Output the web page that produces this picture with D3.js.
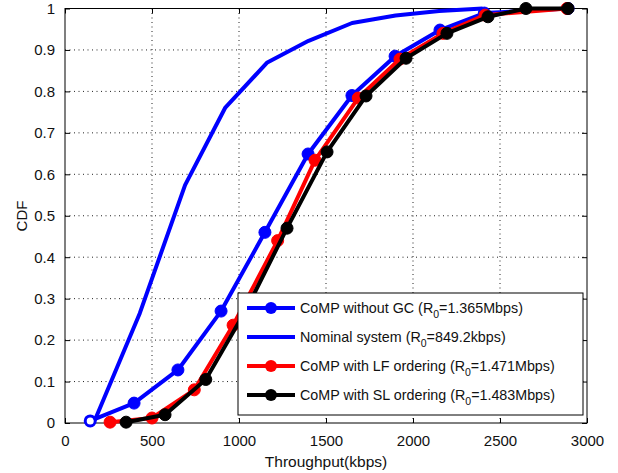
<!DOCTYPE html>
<html>
<head>
<meta charset="utf-8">
<script src="https://cdn.jsdelivr.net/npm/d3@7"></script>
<style>
body { margin: 0; background: #fff; }
text { font-family: "Liberation Sans", Arial, sans-serif; }
</style>
</head>
<body>
<svg width="618" height="473"></svg>
<script>
// data (throughput in kbps, CDF value)
var compX = [145, 397, 649, 897, 1149, 1397, 1649, 1897, 2155, 2410, 2891];
var compY = [0.005, 0.048, 0.128, 0.27, 0.46, 0.649, 0.79, 0.885, 0.948, 0.989, 1.0];
var nomX = [172, 430, 690, 920, 1160, 1400, 1650, 1900, 2150, 2400];
var nomY = [0.007, 0.265, 0.574, 0.76, 0.869, 0.922, 0.965, 0.983, 0.994, 1.0];
var lfX = [259, 500, 743, 966, 1222, 1437, 1685, 1925, 2172, 2414, 2885];
var lfY = [0.002, 0.012, 0.08, 0.236, 0.44, 0.634, 0.784, 0.878, 0.94, 0.984, 1.0];
var slX = [351, 575, 809, 1043, 1276, 1506, 1730, 1960, 2195, 2431, 2649, 2891];
var slY = [0.002, 0.02, 0.105, 0.275, 0.47, 0.654, 0.789, 0.88, 0.94, 0.98, 1.0, 1.0];

var xTicks = [0, 500, 1000, 1500, 2000, 2500, 3000];
var yTicks = [0, 0.1, 0.2, 0.3, 0.4, 0.5, 0.6, 0.7, 0.8, 0.9, 1];

var series = [
  { name: "CoMP without GC (R", val: "=1.365Mbps)", xs: compX, ys: compY, color: "#0000ff", marker: true, openFirst: true },
  { name: "Nominal system (R", val: "=849.2kbps)", xs: nomX, ys: nomY, color: "#0000ff", marker: false },
  { name: "CoMP with LF ordering (R", val: "=1.471Mbps)", xs: lfX, ys: lfY, color: "#ff0000", marker: true },
  { name: "CoMP with SL ordering (R", val: "=1.483Mbps)", xs: slX, ys: slY, color: "#000000", marker: true }
];

var svg = d3.select("svg");
var width = +svg.attr("width");
var height = +svg.attr("height");
var margin = { top: 8.5, right: 31, bottom: 50, left: 65 };
var innerWidth = width - margin.left - margin.right;
var innerHeight = height - margin.top - margin.bottom;

var xScale = d3.scaleLinear().domain([0, 3000]).range([0, innerWidth]);
var yScale = d3.scaleLinear().domain([0, 1]).range([innerHeight, 0]);

var g = svg.append("g").attr("transform", `translate(${margin.left},${margin.top})`);

// dotted grid
g.selectAll(".gx").data(xTicks.slice(1, -1)).enter().append("line")
  .attr("x1", d => xScale(d)).attr("x2", d => xScale(d))
  .attr("y1", 0).attr("y2", innerHeight)
  .attr("stroke", "#222").attr("stroke-width", 1).attr("stroke-dasharray", "1,3.5");
g.selectAll(".gy").data(yTicks.slice(1, -1)).enter().append("line")
  .attr("y1", d => yScale(d)).attr("y2", d => yScale(d))
  .attr("x1", 0).attr("x2", innerWidth)
  .attr("stroke", "#222").attr("stroke-width", 1).attr("stroke-dasharray", "1,3.5");

// axes, ticks pointing inward on all four sides
var xAxis = d3.axisBottom(xScale).tickValues(xTicks).tickSize(-5).tickPadding(12).tickFormat(d3.format("d"));
var yAxis = d3.axisLeft(yScale).tickValues(yTicks).tickSize(-5).tickPadding(10).tickFormat(d => d);
var xAxisG = g.append("g").attr("transform", `translate(0,${innerHeight})`).call(xAxis);
var yAxisG = g.append("g").call(yAxis);
var xTopG = g.append("g").call(d3.axisTop(xScale).tickValues(xTicks).tickSize(-5));
var yRightG = g.append("g").attr("transform", `translate(${innerWidth},0)`)
  .call(d3.axisRight(yScale).tickValues(yTicks).tickSize(-5));
xTopG.selectAll("text").remove();
yRightG.selectAll("text").remove();
[xAxisG, yAxisG, xTopG, yRightG].forEach(function (a) {
  a.select(".domain").remove();
  a.selectAll("line").attr("stroke", "#000");
  a.selectAll("text").attr("fill", "#111").style("font-size", "15px").style("font-family", "Liberation Sans, Arial, sans-serif");
});
g.append("rect").attr("width", innerWidth).attr("height", innerHeight)
  .attr("fill", "none").attr("stroke", "#000").attr("stroke-width", 1);

// curves
var line = d3.line().x(d => xScale(d[0])).y(d => yScale(d[1]));
series.forEach(function (s) {
  var pts = s.xs.map((x, i) => [x, s.ys[i]]);
  g.append("path").datum(pts).attr("d", line)
    .attr("fill", "none").attr("stroke", s.color).attr("stroke-width", 4).attr("stroke-linejoin", "round");
  if (s.marker) {
    g.selectAll(null).data(pts).enter().append("circle")
      .attr("cx", d => xScale(d[0])).attr("cy", d => yScale(d[1]))
      .attr("r", (d, i) => (s.openFirst && i == 0) ? 5 : 6)
      .attr("fill", (d, i) => (s.openFirst && i == 0) ? "#fff" : s.color)
      .attr("stroke", s.color).attr("stroke-width", (d, i) => (s.openFirst && i == 0) ? 3 : 1);
  }
});

// axis labels
svg.append("text").attr("x", 326).attr("y", 467).attr("text-anchor", "middle")
  .style("font-size", "15.5px").attr("fill", "#111").text("Throughput(kbps)");
svg.append("text").attr("transform", "translate(27,216) rotate(-90)").attr("text-anchor", "middle")
  .style("font-size", "15px").attr("fill", "#111").text("CDF");

// legend
var legend = svg.append("g").attr("transform", "translate(238,293)");
legend.append("rect").attr("width", 345).attr("height", 122)
  .attr("fill", "#fff").attr("stroke", "#000").attr("stroke-width", 1);
series.forEach(function (s, i) {
  var y = 15 + i * 29;
  legend.append("line").attr("x1", 9).attr("x2", 57).attr("y1", y).attr("y2", y)
    .attr("stroke", s.color).attr("stroke-width", 4);
  if (s.marker) legend.append("circle").attr("cx", 33).attr("cy", y).attr("r", 6).attr("fill", s.color);
  var t = legend.append("text").attr("x", 62).attr("y", y + 5).style("font-size", "14.3px").attr("fill", "#111");
  t.append("tspan").text(s.name);
  t.append("tspan").attr("dy", 5).style("font-size", "10.5px").text("0");
  t.append("tspan").attr("dy", -5).text(s.val);
});
</script>
</body>
</html>
